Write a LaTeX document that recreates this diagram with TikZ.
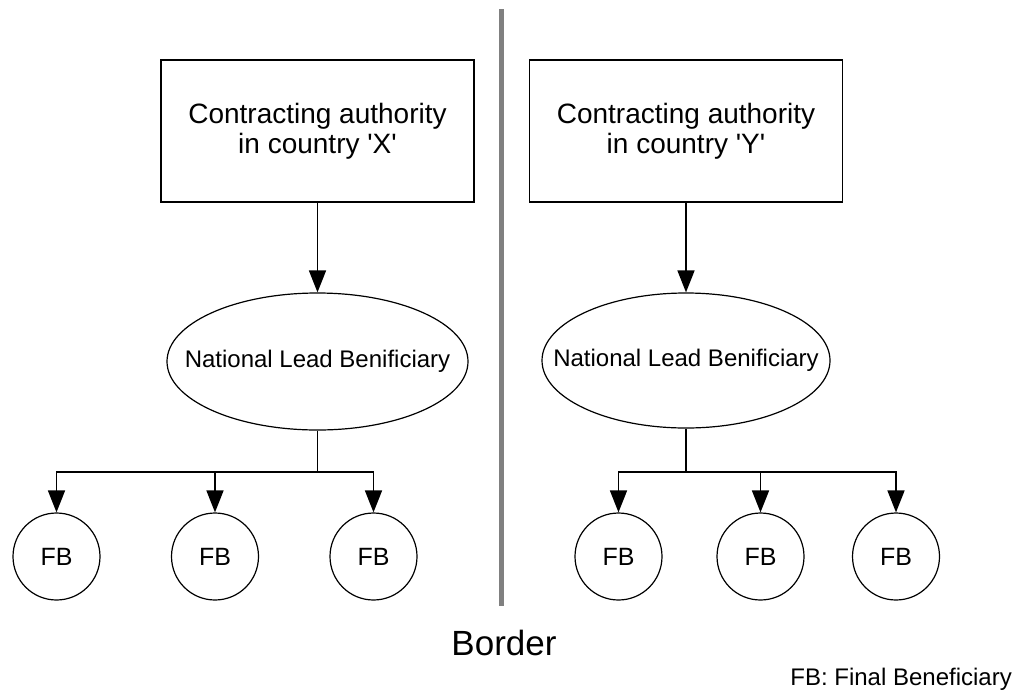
\documentclass[tikz,border=0pt]{standalone}
\usepackage{fontspec}
\setmainfont{Liberation Sans}
\usetikzlibrary{arrows.meta,shapes.geometric}
\begin{document}
\begin{tikzpicture}[x=1pt,y=-1pt,
  box/.style={draw,line width=1.6pt,rectangle,inner sep=0pt,minimum width=313pt,minimum height=142pt,align=center,font=\fontsize{28}{30}\selectfont},
  lead/.style={draw,line width=1.2pt,ellipse,inner sep=0pt,font=\fontsize{24}{26}\selectfont},
  fb/.style={draw,line width=1.2pt,circle,inner sep=0pt,minimum size=87pt,font=\fontsize{25}{27}\selectfont},
  link/.style={line width=1.6pt},
  arr/.style={line width=1.6pt,-{Triangle[length=22pt,width=17pt]}},
  divider/.style={line width=5pt,color=black!50}]
\useasboundingbox (0,0) rectangle (1019,691);
% boxes
\node[box] (boxL) at (317.5,131) {Contracting authority\\in country \textquotesingle X\textquotesingle};
\node[box] (boxR) at (686,131) {Contracting authority\\in country \textquotesingle Y\textquotesingle};
% ellipses
\node[lead,minimum width=301pt,minimum height=137pt] (ellL) at (317.5,361.5) {\makebox[0pt]{National Lead Benificiary}};
\node[lead,minimum width=288pt,minimum height=135pt] (ellR) at (686,360.5) {\makebox[0pt]{National Lead Benificiary}};
% final beneficiaries
\node[fb] (fbL1) at (56.5,556.5) {FB};
\node[fb] (fbL2) at (215,556.5) {FB};
\node[fb] (fbL3) at (373.5,556.5) {FB};
\node[fb] (fbR1) at (618.5,556.5) {FB};
\node[fb] (fbR2) at (760.5,556.5) {FB};
\node[fb] (fbR3) at (896,556.5) {FB};
% junctions
\coordinate (jL) at (317.5,472);
\coordinate (jR) at (686,472);
% connectors
\draw[arr] (boxL) -- (ellL);
\draw[arr] (boxR) -- (ellR);
\draw[link] (ellL.south) -- (jL);
\draw[link] (ellR.south) -- (jR);
\draw[arr] (jL) -| (fbL1);
\draw[arr] (jL) -| (fbL2);
\draw[arr] (jL) -| (fbL3);
\draw[arr] (jR) -| (fbR1);
\draw[arr] (jR) -| (fbR2);
\draw[arr] (jR) -| (fbR3);
% border
\coordinate (bTop) at (501.5,9);
\coordinate (bBot) at (501.5,606);
\draw[divider] (bTop) -- (bBot);
\node[anchor=base,inner sep=0pt,font=\fontsize{35}{37}\selectfont] (border) at (504,655) {Border};
\node[anchor=base east,inner sep=0pt,font=\fontsize{24}{26}\selectfont] (legend) at (1012,685) {FB: Final Beneficiary};
\end{tikzpicture}
\end{document}
